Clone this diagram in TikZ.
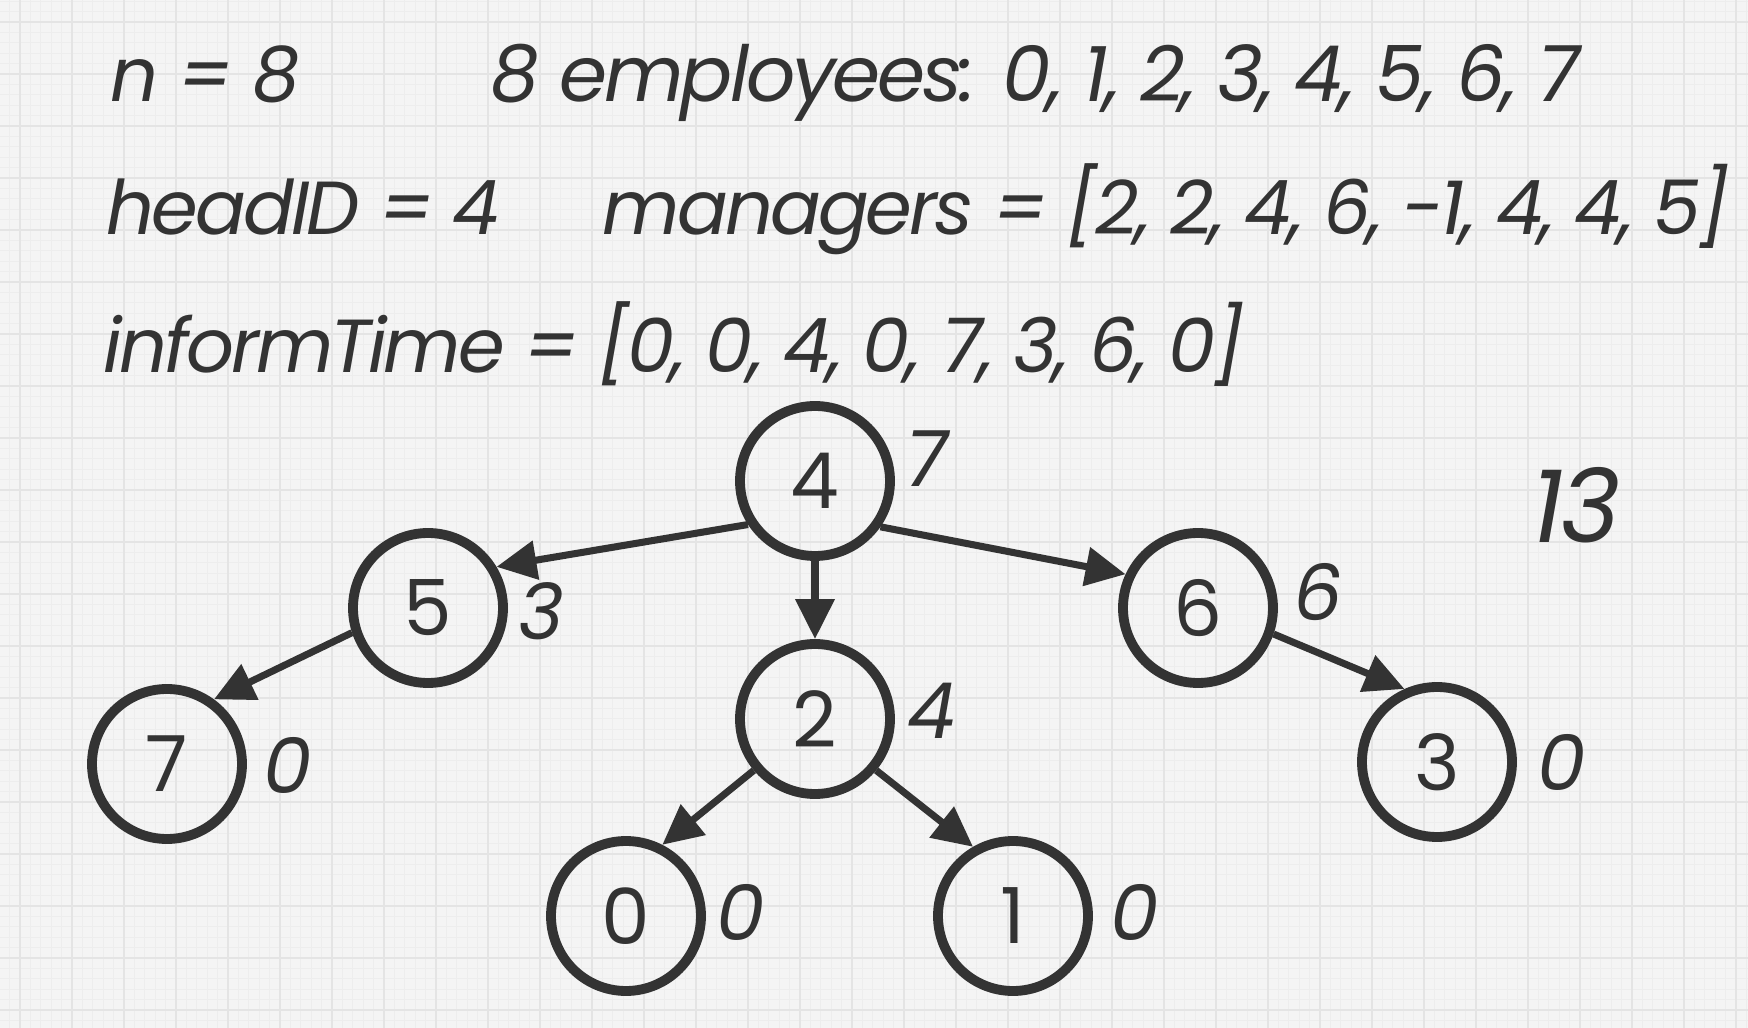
\documentclass[tikz,border=0pt]{standalone}
\usepackage{fontspec}
\setmainfont{Poppins}[LetterSpace=-4]
\usetikzlibrary{arrows.meta,calc}
\definecolor{ink}{HTML}{333333}
\definecolor{paper}{HTML}{F4F4F4}
\definecolor{rule}{HTML}{E4E4E4}
\definecolor{fine}{HTML}{EDEDED}
\tikzstyle{emp}=[circle, draw=ink, line width=2.8pt, minimum size=1.5cm, inner sep=0pt, text=ink, font=\fontsize{22}{26}\selectfont]
\tikzstyle{wt}=[text=ink, inner sep=0pt, font=\fontsize{22}{26}\selectfont\itshape]
\tikzstyle{txt}=[anchor=base west, text=ink, inner sep=0pt, font=\fontsize{21.4}{26}\selectfont\itshape]
\tikzstyle{informs}=[-{Triangle[length=0.4cm,width=0.38cm]}, line width=2pt, draw=ink]
\newcommand{\employee}[4]{
 \node[emp] (e#1) at #2 {#1};
 \node[wt] (w#1) at ($#2+#3$) {#4};
}

\begin{document}
\begin{tikzpicture}
 \useasboundingbox (0,0) rectangle (17.48,-10.28);
 \fill[paper] (0,0) rectangle (17.48,-10.28);
 \begin{scope}
  \clip (0,0) rectangle (17.48,-10.28);
  \draw[fine, line width=0.3pt, step=0.104, shift={(0.2,-0.22)}] (-0.6,0.6) grid (17.6,-10.6);
  \draw[rule, line width=0.7pt, step=0.52, shift={(0.2,-0.22)}] (-0.6,0.6) grid (17.6,-10.6);
 \end{scope}
%
 \node[txt] (n) at (1.10,-1.02) {n = 8};
 \node[txt, font=\fontsize{22}{26}\selectfont\itshape] (emps) at (4.90,-1.02) {8 employees: 0, 1, 2, 3, 4, 5, 6, 7};
 \node[txt] (head) at (1.06,-2.35) {headID = 4};
 \node[txt] (mgrs) at (6.02,-2.35) {managers = [2, 2, 4, 6, -1, 4, 4, 5]};
 \node[txt] (inform) at (1.03,-3.73) {informTime = [0, 0, 4, 0, 7, 3, 6, 0]};
 \node[wt, font=\fontsize{29}{34}\selectfont\itshape] (total) at (15.76,-5.05) {13};
%
 \employee{4}{(8.15,-4.81)}{(1.12,0.22)}{7}
 \employee{5}{(4.28,-6.08)}{(1.13,-0.03)}{3}
 \employee{2}{(8.15,-7.19)}{(1.17,0.08)}{4}
 \employee{6}{(11.98,-6.08)}{(1.20,0.16)}{6}
 \employee{7}{(1.67,-7.64)}{(1.21,-0.01)}{0}
 \employee{3}{(14.37,-7.62)}{(1.25,0.00)}{0}
 \employee{0}{(6.26,-9.16)}{(1.15,0.04)}{0}
 \employee{1}{(10.13,-9.16)}{(1.22,0.04)}{0}
%
 \draw[informs] (e4.213) -- (e5.31);
 \draw[informs] (e4.-90) -- (e2.90);
 \draw[informs] (e4.-35) -- (e6.155);
 \draw[informs] (e5.198) -- (e7.54);
 \draw[informs] (e6.-19) -- (e3.114);
 \draw[informs] (e2.220) -- (e0.63);
 \draw[informs] (e2.-40) -- (e1.120);
\end{tikzpicture}
\end{document}
